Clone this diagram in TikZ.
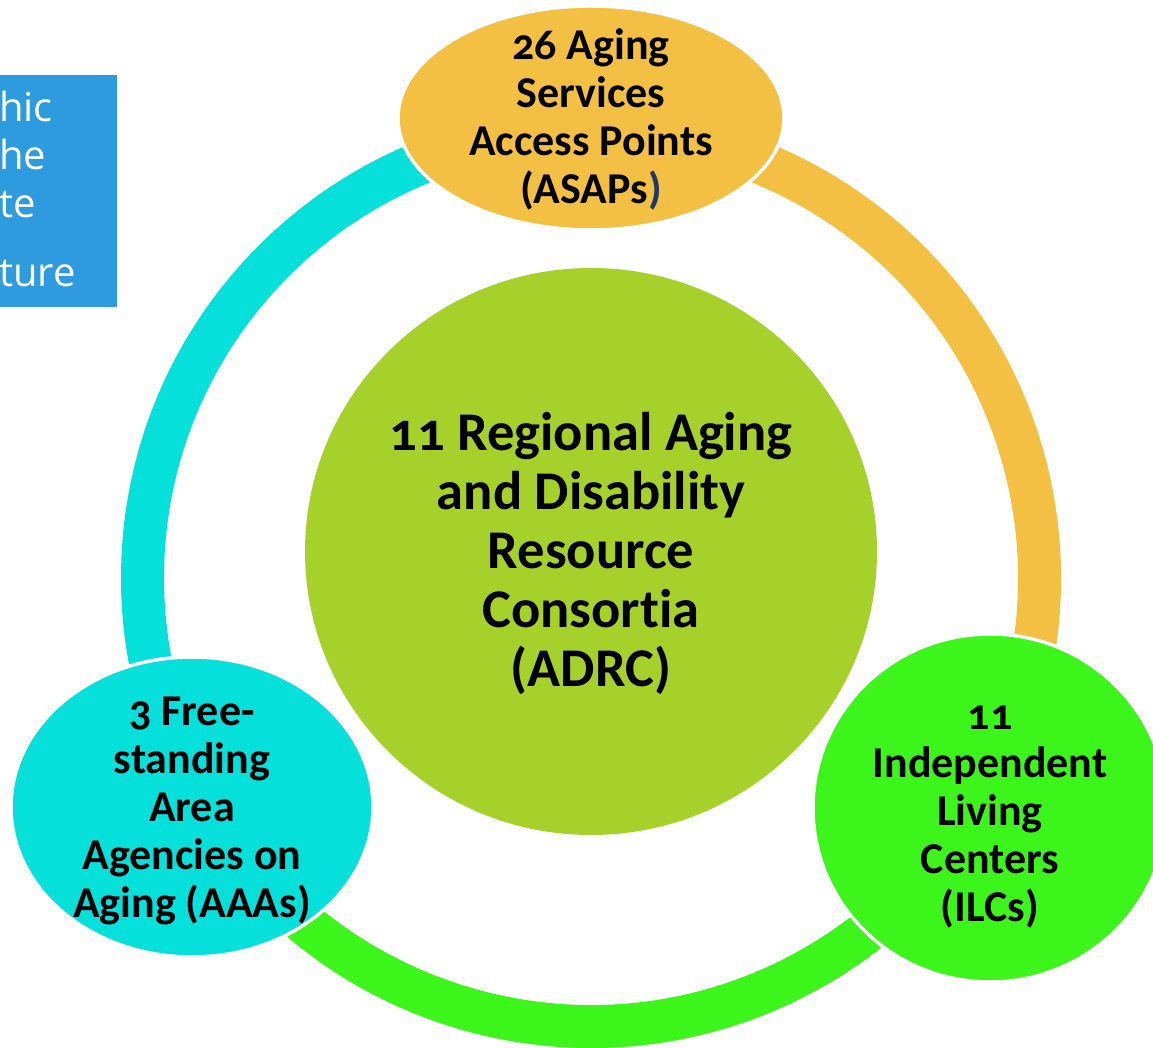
\documentclass[tikz,border=0pt]{standalone}
\usepackage{fontspec}
\setmainfont{Carlito}[Numbers=OldStyle,Ligatures=NoCommon]
\newfontfamily\boxfont{Open Sans}
\usetikzlibrary{shapes.geometric}
\definecolor{cyanc}{RGB}{5,224,219}
\definecolor{orangec}{RGB}{244,192,67}
\definecolor{greenc}{RGB}{60,245,26}
\definecolor{olivec}{RGB}{166,209,43}
\definecolor{boxblue}{RGB}{46,155,222}
\definecolor{navyc}{RGB}{31,56,100}
\begin{document}
\begin{tikzpicture}[x=1pt,y=1pt,
  ringseg/.style={line width=43pt, line cap=butt},
  blob/.style={ellipse, draw=white, line width=3.5pt, inner sep=0pt},
  lbl/.style={align=center, inner sep=0pt, text=black,
    font=\bfseries\fontsize{44}{48}\selectfont},
  biglbl/.style={align=center, inner sep=0pt, text=black,
    font=\bfseries\fontsize{54.5}{59}\selectfont},
  boxtxt/.style={anchor=base west, inner sep=0pt, text=white,
    font=\boxfont\fontsize{40}{46}\selectfont}]
\useasboundingbox (0,0) rectangle (1153,1047);
\clip (0,0) rectangle (1153,1047);
% blue box (cropped)
\node[fill=boxblue, minimum width=117pt, minimum height=232pt, anchor=south west, inner sep=0pt] (box) at (0,740) {};
\node[boxtxt] (b1) at (-1,925) {hic};
\node[boxtxt] (b2) at (-1,877) {he};
\node[boxtxt] (b3) at (-1,829) {te};
\node[boxtxt] (b4) at (-1,760) {ture};
% ring
\coordinate (ring) at (591,469);
\draw[ringseg, cyanc] ([shift={(90:448.5)}]ring) arc[start angle=90, end angle=209.7, radius=448.5pt];
\draw[ringseg, greenc] ([shift={(209.7:448.5)}]ring) arc[start angle=209.7, end angle=330.1, radius=448.5pt];
\draw[ringseg, orangec] ([shift={(-29.9:448.5)}]ring) arc[start angle=-29.9, end angle=90, radius=448.5pt];
% centre
\node[ellipse, fill=olivec, minimum width=572pt, minimum height=567pt, inner sep=0pt] (adrc) at (591,495.5) {};
\node[biglbl] (adrct) at ([yshift=-2pt]adrc.center) {11 Regional Aging\\and Disability\\Resource\\Consortia\\(ADRC)};
% outer blobs
\node[blob, fill=orangec, minimum width=386pt, minimum height=224pt] (asap) at (591,929) {};
\node[lbl] (asapt) at ([yshift=-1pt]asap.center) {26 Aging\\Services\\Access Points\\(ASAPs{\color{navyc})}};
\node[blob, fill=cyanc, minimum width=362pt, minimum height=300pt] (aaa) at (192,240) {};
\node[lbl] (aaat) at ([yshift=-4pt]aaa.center) {3 Free-\\standing\\Area\\Agencies on\\Aging (AAAs)};
\node[blob, fill=greenc, minimum width=354pt, minimum height=348pt] (ilc) at (990,239) {};
\node[lbl] (ilct) at ([yshift=-9pt]ilc.center) {11\\Independent\\Living\\Centers\\(ILCs)};
\end{tikzpicture}
\end{document}
